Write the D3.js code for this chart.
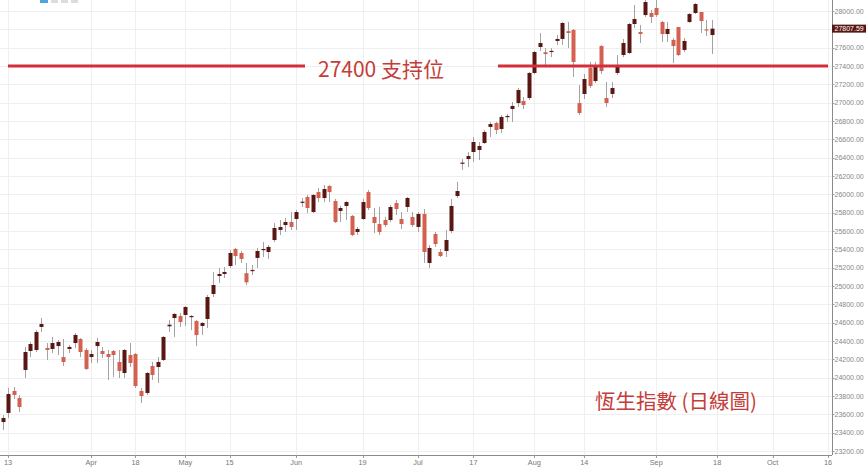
<!DOCTYPE html>
<html><head><meta charset="utf-8">
<script src="https://cdnjs.cloudflare.com/ajax/libs/d3/7.8.5/d3.min.js"></script>
<style>body{margin:0;background:#fff}svg{display:block}</style>
</head><body>
<svg id="c" width="866" height="467"></svg>
<script>
// ---- data ----
const dates = [
"2017-03-10","2017-03-13","2017-03-14","2017-03-15","2017-03-16","2017-03-17","2017-03-20","2017-03-21","2017-03-22","2017-03-23","2017-03-24","2017-03-27","2017-03-28","2017-03-29","2017-03-30","2017-03-31",
"2017-04-03","2017-04-05","2017-04-06","2017-04-07","2017-04-10","2017-04-11","2017-04-12","2017-04-13","2017-04-18","2017-04-19","2017-04-20","2017-04-21","2017-04-24","2017-04-25","2017-04-26","2017-04-27","2017-04-28",
"2017-05-02","2017-05-04","2017-05-05","2017-05-08","2017-05-09","2017-05-10","2017-05-11","2017-05-12","2017-05-15","2017-05-16","2017-05-17","2017-05-18","2017-05-19","2017-05-22","2017-05-23","2017-05-24","2017-05-25","2017-05-26","2017-05-29","2017-05-31",
"2017-06-01","2017-06-02","2017-06-05","2017-06-06","2017-06-07","2017-06-08","2017-06-09","2017-06-12","2017-06-13","2017-06-14","2017-06-15","2017-06-16","2017-06-19","2017-06-20","2017-06-21","2017-06-22","2017-06-23","2017-06-26","2017-06-27","2017-06-28","2017-06-29","2017-06-30",
"2017-07-03","2017-07-04","2017-07-05","2017-07-06","2017-07-07","2017-07-10","2017-07-11","2017-07-12","2017-07-13","2017-07-14","2017-07-17","2017-07-18","2017-07-19","2017-07-20","2017-07-21","2017-07-24","2017-07-25","2017-07-26","2017-07-27","2017-07-28","2017-07-31",
"2017-08-01","2017-08-02","2017-08-03","2017-08-04","2017-08-07","2017-08-08","2017-08-09","2017-08-10","2017-08-11","2017-08-14","2017-08-15","2017-08-16","2017-08-17","2017-08-18","2017-08-21","2017-08-22","2017-08-24","2017-08-25","2017-08-28","2017-08-29","2017-08-30","2017-08-31",
"2017-09-01","2017-09-04","2017-09-05","2017-09-06","2017-09-07","2017-09-08","2017-09-11","2017-09-12","2017-09-13","2017-09-14","2017-09-15"];

// [open, high, low, close]
const ohlc = [
[23516,23593,23429,23560],[23615,23887,23560,23822],[23855,23898,23767,23811],[23778,23811,23626,23680],[24084,24335,23996,24280],[24291,24389,24225,24367],[24302,24520,24280,24498],[24553,24651,24498,24586],[24324,24378,24193,24302],[24313,24444,24269,24378],[24345,24411,24247,24389],[24225,24422,24127,24171],[24313,24356,24269,24335],[24378,24487,24324,24466],[24422,24433,24225,24280],[24302,24324,24084,24095],
[24225,24302,24160,24258],[24345,24433,24160,24389],[24291,24335,24214,24258],[24258,24302,23975,24225],[24291,24302,24007,24247],[24171,24302,23996,24073],[24051,24313,23996,24302],[24247,24378,24116,24160],[24258,24269,23887,23909],[23855,23887,23724,23800],[23833,24062,23811,24051],[24127,24171,23975,24029],[24116,24225,23942,24171],[24193,24455,24182,24444],[24560,24629,24498,24578],[24651,24705,24444,24695],[24673,24705,24553,24607],
[24684,24782,24564,24771],[24662,24684,24520,24673],[24618,24629,24345,24465],[24564,24607,24465,24597],[24640,24902,24542,24880],[24913,25153,24880,25011],[25109,25196,25033,25131],[25131,25207,25087,25153],[25218,25393,25196,25360],[25404,25415,25229,25327],[25360,25382,25251,25295],[25140,25251,25011,25040],[25170,25229,25120,25175],[25306,25415,25196,25382],[25393,25480,25316,25404],[25371,25447,25295,25426],[25502,25687,25480,25633],[25611,25720,25556,25644],[25665,25742,25589,25698],[25698,25807,25611,25644],
[25731,25829,25611,25807],[25915,25960,25862,25920],[25971,25993,25796,25851],[25807,26004,25796,25993],[26025,26069,25916,25960],[25960,26102,25916,26058],[26091,26102,25916,26025],[25927,25949,25687,25698],[25818,25873,25698,25851],[25873,25927,25720,25916],[25764,25775,25545,25556],[25589,25644,25556,25622],[25731,25949,25720,25916],[26025,26047,25829,25851],[25753,25851,25578,25687],[25676,25862,25556,25589],[25720,25753,25644,25665],[25720,25884,25698,25862],[25905,25938,25775,25840],[25731,25807,25622,25676],[25862,25971,25807,25960],[25753,25807,25644,25665],
[25644,25807,25589,25786],[25786,25840,25251,25371],[25251,25447,25196,25415],[25567,25589,25425,25458],[25371,25404,25316,25327],[25382,25611,25316,25502],[25600,25949,25578,25873],[25982,26135,25960,26036],[26335,26385,26266,26346],[26385,26462,26298,26418],[26462,26625,26353,26571],[26484,26571,26374,26527],[26560,26702,26549,26680],[26735,26789,26625,26767],[26778,26789,26658,26702],[26713,26865,26669,26844],[26850,26876,26789,26855],[26931,27007,26789,26964],[26996,27160,26953,27138],[27018,27062,26931,26975],[27051,27335,27029,27324],
[27324,27564,27310,27553],[27607,27760,27564,27651],[27550,27596,27411,27530],[27560,27596,27498,27565],[27673,27738,27629,27695],[27695,27880,27629,27869],[27780,27880,27596,27760],[27793,27804,27280,27444],[26996,27193,26865,26887],[27095,27313,27040,27258],[27378,27444,27160,27182],[27236,27444,27215,27389],[27618,27629,27313,27345],[27051,27225,26953,26996],[27095,27225,27051,27160],[27324,27520,27302,27389],[27520,27695,27498,27651],[27542,27869,27531,27858],[27858,28065,27815,27913],[27771,27847,27651,27749],[27956,28120,27935,28098],[27978,28011,27869,27935],
[28033,28120,27935,27956],[27880,27891,27662,27749],[27749,27880,27662,27804],[27684,27705,27433,27618],[27825,27825,27509,27520],[27575,27705,27553,27673],[27880,27978,27869,27967],[27978,28087,27967,28076],[27989,27989,27760,27891],[27800,27902,27727,27795],[27738,27902,27531,27807.59]];

// empty future weekdays on the time axis
const futureDates = ["2017-09-18","2017-09-19","2017-09-20","2017-09-21","2017-09-22","2017-09-25","2017-09-26","2017-09-27","2017-09-28","2017-09-29",
"2017-10-02","2017-10-03","2017-10-04","2017-10-05","2017-10-06","2017-10-09","2017-10-10","2017-10-11","2017-10-12","2017-10-13","2017-10-16","2017-10-17","2017-10-18"];

const xTickDates  = ["2017-03-13","2017-04-03","2017-04-18","2017-05-02","2017-05-15","2017-06-01","2017-06-19","2017-07-03","2017-07-17","2017-08-01","2017-08-14","2017-09-01","2017-09-18","2017-10-02","2017-10-16"];
const xTickLabels = ["13","Apr","18","May","15","Jun","19","Jul","17","Aug","14","Sep","18","Oct","16"];
const yTickValues = [23200,23400,23600,23800,24000,24200,24400,24600,24800,25000,25200,25400,25600,25800,26000,26200,26400,26600,26800,27000,27200,27400,27600,27800,28000];

const supportLevel = 27400;
const supportText = "27400 支持位";
const titleText = "恆生指數 (日線圖)";
const lastPrice = 27807.59;

// ---- layout ----
const W = 866, H = 467;
const plotRight = 832, plotBottom = 455;
const step = 5.54;
const allDates = dates.concat(futureDates);

const x = d3.scalePoint().domain(allDates).range([2.5, 2.5 + step * (allDates.length - 1)]);
const y = d3.scaleLinear().domain([23200, 28000]).range([451, 11]);

const svg = d3.select("#c");
const UP = "#5a1612", DOWN = "#d4604f", WICK = "#a3a3a3";
const GRID = "#efefef";

const defs = svg.append("defs");
defs.append("clipPath").attr("id","plot").append("rect").attr("x",0).attr("y",0).attr("width",plotRight).attr("height",plotBottom);

// grid
const grid = svg.append("g");
grid.selectAll("line.h").data(yTickValues).join("line")
  .attr("x1",0).attr("x2",plotRight)
  .attr("y1",d=>Math.round(y(d))+0.5).attr("y2",d=>Math.round(y(d))+0.5)
  .attr("stroke",GRID).attr("stroke-width",1);
grid.selectAll("line.v").data(xTickDates).join("line")
  .attr("x1",d=>Math.round(x(d))+0.5).attr("x2",d=>Math.round(x(d))+0.5)
  .attr("y1",0).attr("y2",plotBottom)
  .attr("stroke",GRID).attr("stroke-width",1);

// top-left toolbar remnants
const tb = svg.append("g");
tb.append("rect").attr("x",40).attr("y",-3).attr("width",8).attr("height",6).attr("fill","#4ea6dc");
[51,61,71].forEach(px=>tb.append("rect").attr("x",px).attr("y",-3).attr("width",7).attr("height",6).attr("fill","#dcdcdc"));

// candles
const rows = dates.map((d,i)=>({date:d,o:ohlc[i][0],h:ohlc[i][1],l:ohlc[i][2],c:ohlc[i][3]}));
const cg = svg.append("g").attr("clip-path","url(#plot)");
const bw = 4;
cg.selectAll("line.w").data(rows).join("line")
  .attr("x1",d=>Math.round(x(d.date))+0.5).attr("x2",d=>Math.round(x(d.date))+0.5)
  .attr("y1",d=>y(d.h)).attr("y2",d=>y(d.l))
  .attr("stroke",WICK).attr("stroke-width",1);
cg.selectAll("rect.b").data(rows).join("rect")
  .attr("x",d=>Math.round(x(d.date))-1.5)
  .attr("width",bw)
  .attr("y",d=>y(Math.max(d.o,d.c)))
  .attr("height",d=>Math.max(1.2, Math.abs(y(d.o)-y(d.c))))
  .attr("fill",d=>d.c>=d.o?UP:DOWN);

// support line (two segments around the label)
const sy = y(supportLevel);
const lineG = svg.append("g");
lineG.append("line").attr("x1",8).attr("x2",305).attr("y1",sy).attr("y2",sy).attr("stroke","#d22f3b").attr("stroke-width",3);
lineG.append("line").attr("x1",498).attr("x2",828).attr("y1",sy).attr("y2",sy).attr("stroke","#d22f3b").attr("stroke-width",3);
svg.append("text").attr("x",381).attr("y",sy+2).attr("text-anchor","middle").attr("dominant-baseline","central")
  .attr("font-family","'Noto Sans CJK TC','Noto Sans',sans-serif").attr("font-size",21).attr("fill","#c43d3a")
  .text(supportText);

svg.append("text").attr("x",676).attr("y",400).attr("text-anchor","middle").attr("dominant-baseline","central")
  .attr("font-family","'Noto Sans CJK TC','Noto Sans',sans-serif").attr("font-size",20.5).attr("fill","#c43d3a")
  .text(titleText);

// right axis
const ya = svg.append("g");
ya.append("line").attr("x1",plotRight+0.5).attr("x2",plotRight+0.5).attr("y1",0).attr("y2",plotBottom).attr("stroke","#8a8a8a");
ya.selectAll("line.t").data(yTickValues).join("line")
  .attr("x1",plotRight).attr("x2",plotRight+2.5)
  .attr("y1",d=>Math.round(y(d))+0.5).attr("y2",d=>Math.round(y(d))+0.5).attr("stroke","#9a9a9a");
ya.selectAll("text").data(yTickValues).join("text")
  .attr("x",834.5).attr("y",d=>y(d)).attr("dominant-baseline","central")
  .attr("font-family","'Liberation Sans',Arial,sans-serif").attr("font-size",7).attr("fill","#888")
  .text(d=>d3.format(".2f")(d));

// last price label
const ly = y(lastPrice);
svg.append("rect").attr("x",832).attr("y",ly-4).attr("width",34).attr("height",8).attr("fill","#5a1612");
svg.append("text").attr("x",834.5).attr("y",ly).attr("dominant-baseline","central")
  .attr("font-family","'Liberation Sans',Arial,sans-serif").attr("font-size",7).attr("fill","#fff")
  .text(d3.format(".2f")(lastPrice));

// bottom axis
const xa = svg.append("g");
xa.append("line").attr("x1",0).attr("x2",plotRight).attr("y1",plotBottom+0.5).attr("y2",plotBottom+0.5).attr("stroke","#8a8a8a");
xa.selectAll("line.t").data(xTickDates).join("line")
  .attr("x1",d=>Math.round(x(d))+0.5).attr("x2",d=>Math.round(x(d))+0.5)
  .attr("y1",plotBottom).attr("y2",plotBottom+3).attr("stroke","#9a9a9a");
xa.selectAll("text").data(xTickDates).join("text")
  .attr("x",d=>x(d)).attr("y",462.5).attr("text-anchor","middle").attr("dominant-baseline","central")
  .attr("font-family","'Liberation Sans',Arial,sans-serif").attr("font-size",7.3).attr("fill","#777")
  .text((d,i)=>xTickLabels[i]);
</script>
</body></html>
